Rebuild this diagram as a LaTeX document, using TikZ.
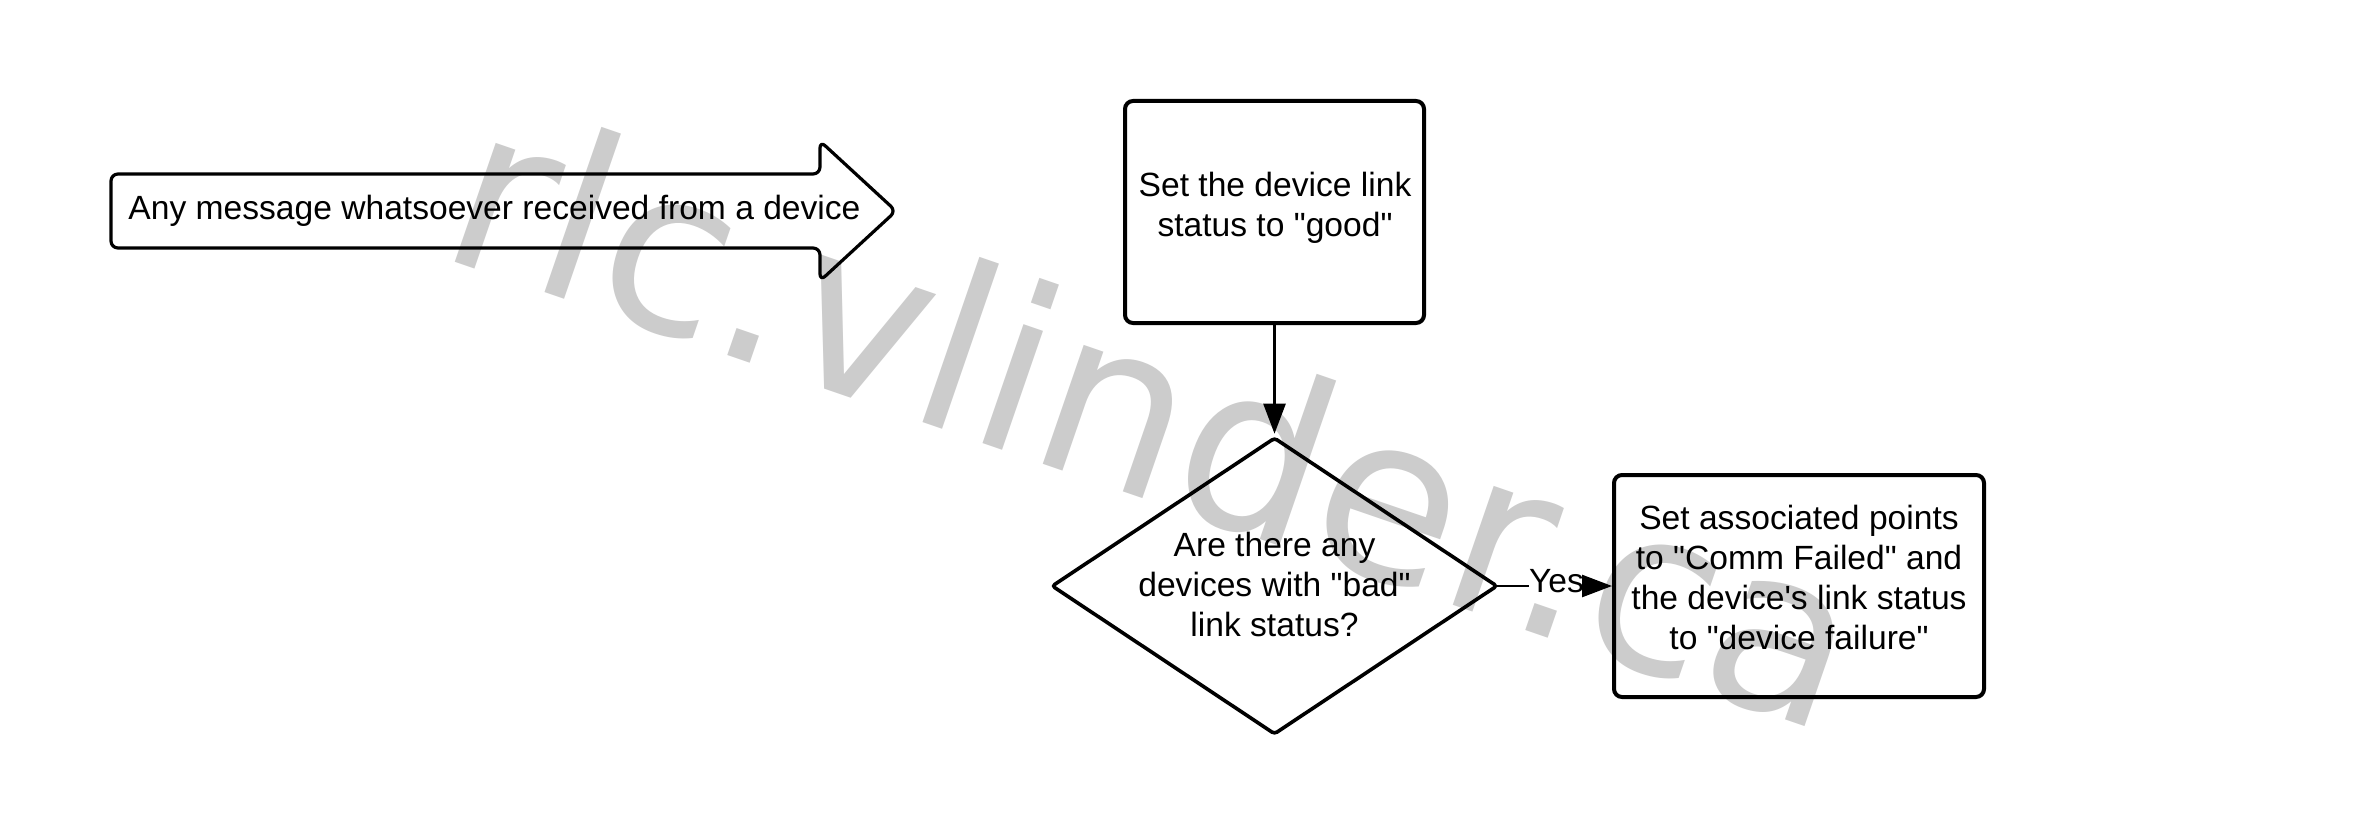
\documentclass[tikz,border=0pt]{standalone}
\usepackage{fontspec}
\setmainfont{Liberation Sans}[Ligatures=TeXOff]
\newfontfamily\wmfont{DejaVu Sans}
\usetikzlibrary{arrows.meta,shapes.geometric}
\definecolor{wmgrey}{HTML}{CCCCCC}
\tikzset{
  txt/.style={inner sep=0pt, align=center, font=\fontsize{33.6}{40}\selectfont},
  stepbox/.style={draw, line width=4pt, rounded corners=8pt, inner sep=0pt,
    minimum width=299pt, minimum height=222pt},
  decision/.style={draw, diamond, line width=3.6pt, rounded corners=3pt, inner sep=0pt,
    minimum width=446pt, minimum height=297pt},
  conn/.style={line width=2.6pt},
  tip/.style={-{Triangle[length=30pt,width=22pt]}},
}
\begin{document}
\begin{tikzpicture}[x=1pt,y=-1pt]
\useasboundingbox (0,0) rectangle (2363,813);
\fill[white] (0,0) rectangle (2363,813);
% watermark
\node[anchor=base west, rotate=-19, inner sep=0pt, text=wmgrey,
  font=\wmfont\fontsize{230}{276}\selectfont] (wm) at (435,255) {rlc.vlinder.ca};
% big arrow shape
\draw[line width=3.2pt, rounded corners=7pt, line join=round]
  (111,174) -- (820,174) -- (820,141) -- (896,211) -- (820,281) -- (820,248) -- (111,248) -- cycle;
\node[txt] (msg) at (494.5,211.3) {Any message whatsoever received from a device};
% boxes
\node[stepbox] (good) at (1274.5,212) {};
\node[txt] (goodtxt) at (1275,208) {Set the device link\\status to "good"};
\node[decision] (q) at (1274.5,586) {};
\node[txt] (qtxt) at (1274.5,584.8) {Are there any\\devices with "bad"\\link status?};
\node[stepbox, minimum width=370pt] (fail) at (1799,586) {};
\node[txt] (failtxt) at (1799,577.8) {Set associated points\\to "Comm Failed" and\\the device's link status\\to "device failure"};
% connectors
\draw[conn, tip, shorten >=2pt] (good.south) -- (q.north);
\node[txt] (yes) at (1556.5,581.5) {Yes};
\draw[conn, shorten <=-4pt] (q.east) -- (q.east -| yes.west);
\draw[conn, tip] (yes.east |- fail.west) -- (fail.west);
\end{tikzpicture}
\end{document}
